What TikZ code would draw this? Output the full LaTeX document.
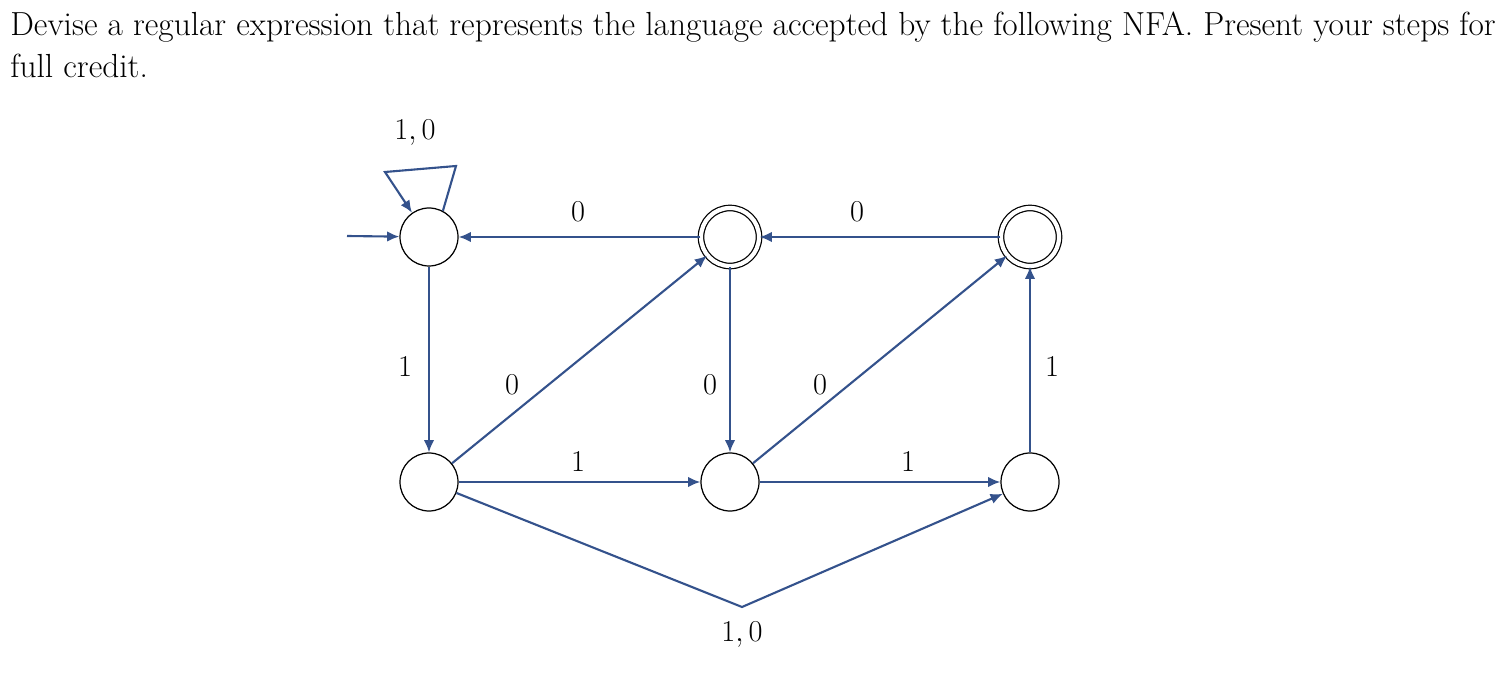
\documentclass[tikz,border=0pt]{standalone}
\usetikzlibrary{arrows.meta}
\definecolor{eb}{RGB}{52,82,140}
\begin{document}
\begin{tikzpicture}[x=0.02cm,y=-0.02cm,
  st/.style={circle,draw=black,line width=0.7pt,minimum size=58*0.02cm,inner sep=0pt},
  acc/.style={st,double,double distance=2.4pt,minimum size=58*0.02cm},
  ed/.style={draw=eb,line width=1.2pt,-{Latex[length=7pt,width=6pt]}},
  lb/.style={font=\fontsize{19}{22}\selectfont,inner sep=0pt}]
\useasboundingbox (0,0) rectangle (1510,685);
\node[lb,anchor=base west] (t1) at (10,36) {Devise a regular expression that represents the language accepted by the following NFA. Present your steps for};
\node[lb,anchor=base west] (t2) at (10,78) {full credit.};
\node[st] (q0) at (429,237) {};
\node[acc] (q1) at (730,237) {};
\node[acc] (q2) at (1030,237) {};
\node[st] (q3) at (429,482) {};
\node[st] (q4) at (730,482) {};
\node[st] (q5) at (1030,482) {};
\coordinate (s) at (347,236);
\coordinate (b) at (742,607);
\draw[ed] (s) -- (q0);
\draw[ed] (q0.62) -- (456,166) -- (385,172) -- (q0.125);
\draw[ed] (q1) -- (q0);
\draw[ed] (q2) -- (q1);
\draw[ed] (q0) -- (q3);
\draw[ed] (q3) -- (q1);
\draw[ed] (q1) -- (q4);
\draw[ed] (q4) -- (q2);
\draw[ed] (q3) -- (q4);
\draw[ed] (q4) -- (q5);
\draw[ed] (q5) -- (q2);
\draw[ed] (q3) -- (b) -- (q5);
\node[lb] (l0) at (415,133) {$1,0$};
\node[lb] (l1) at (578,212) {$0$};
\node[lb] (l2) at (857,212) {$0$};
\node[lb] (l3) at (405,367) {$1$};
\node[lb] (l4) at (512,385) {$0$};
\node[lb] (l5) at (710,385) {$0$};
\node[lb] (l6) at (820,385) {$0$};
\node[lb] (l7) at (578,462) {$1$};
\node[lb] (l8) at (908,462) {$1$};
\node[lb] (l9) at (1052,367) {$1$};
\node[lb] (l10) at (742,635) {$1,0$};
\end{tikzpicture}
\end{document}
